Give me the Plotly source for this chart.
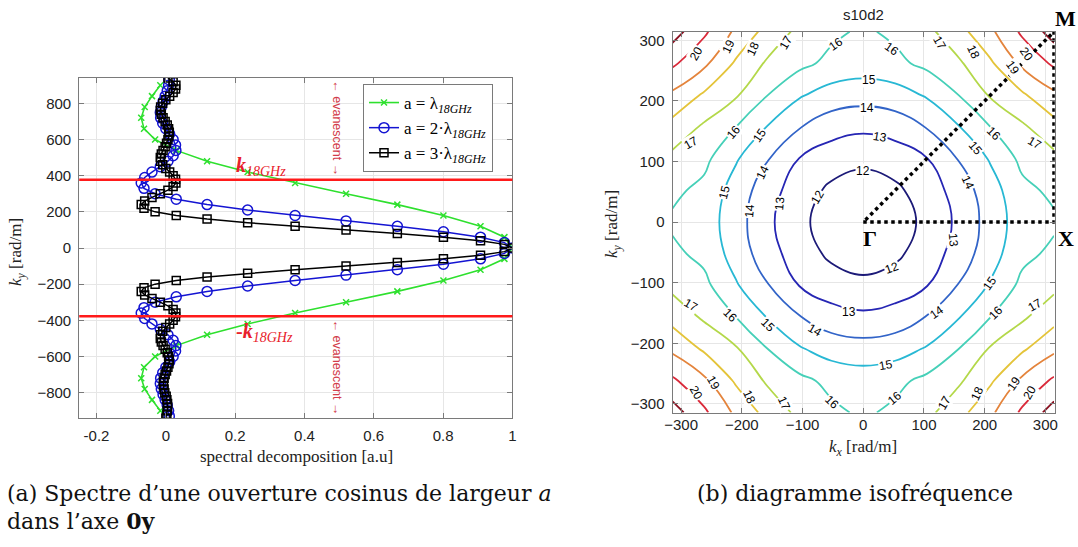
import plotly.graph_objects as go

# ---------------- data : left panel (spectra) ----------------
green_ky = [-900, -840, -780, -720, -660, -600, -540, -480, -420, -360, -300, -240, -180, -120, -60,
            0, 60, 120, 180, 240, 300, 360, 420, 480, 540, 600, 660, 720, 780, 840, 900]
green_val = [-0.016, -0.040, -0.061, -0.071, -0.063, -0.031, 0.030, 0.119, 0.236, 0.373, 0.520,
             0.668, 0.801, 0.908, 0.977, 1.000, 0.977, 0.908, 0.801, 0.668, 0.520, 0.373, 0.236,
             0.119, 0.030, -0.031, -0.063, -0.071, -0.061, -0.040, -0.016]

blue_ky = [-930, -900, -870, -840, -810, -780, -750, -720, -690, -660, -630, -600, -570, -540, -510,
           -480, -450, -420, -390, -360, -330, -300, -270, -240, -210, -180, -150, -120, -90, -60, -30,
           0, 30, 60, 90, 120, 150, 180, 210, 240, 270, 300, 330, 360, 390, 420, 450, 480, 510, 540,
           570, 600, 630, 660, 690, 720, 750, 780, 810, 840, 870, 900, 930]
blue_val = [0.010, 0.008, 0.004, -0.002, -0.008, -0.013, -0.016, -0.015, -0.009, 0.000, 0.011, 0.021,
            0.028, 0.029, 0.021, 0.006, -0.016, -0.040, -0.061, -0.071, -0.063, -0.031, 0.030, 0.119,
            0.236, 0.373, 0.520, 0.668, 0.801, 0.908, 0.977, 1.000, 0.977, 0.908, 0.801, 0.668, 0.520,
            0.373, 0.236, 0.119, 0.030, -0.031, -0.063, -0.071, -0.061, -0.040, -0.016, 0.006, 0.021,
            0.029, 0.028, 0.021, 0.011, 0.000, -0.009, -0.015, -0.016, -0.013, -0.008, -0.002, 0.004,
            0.008, 0.010]

black_ky = [-940, -920, -900, -880, -860, -840, -820, -800, -780, -760, -740, -720, -700, -680, -660,
            -640, -620, -600, -580, -560, -540, -520, -500, -480, -460, -440, -420, -400, -380, -360,
            -340, -320, -300, -280, -260, -240, -220, -200, -180, -160, -140, -120, -100, -80, -60, -40,
            -20, 0, 20, 40, 60, 80, 100, 120, 140, 160, 180, 200, 220, 240, 260, 280, 300, 320, 340,
            360, 380, 400, 420, 440, 460, 480, 500, 520, 540, 560, 580, 600, 620, 640, 660, 680, 700,
            720, 740, 760, 780, 800, 820, 840, 860, 880, 900, 920, 940]
black_val = [0.000, 0.003, 0.004, 0.005, 0.005, 0.003, 0.001, -0.003, -0.005, -0.007, -0.007, -0.005,
             -0.002, 0.002, 0.006, 0.009, 0.010, 0.008, 0.004, -0.002, -0.008, -0.013, -0.016, -0.015,
             -0.009, 0.000, 0.011, 0.021, 0.028, 0.029, 0.021, 0.006, -0.016, -0.040, -0.061, -0.071,
             -0.063, -0.031, 0.030, 0.119, 0.236, 0.373, 0.520, 0.668, 0.801, 0.908, 0.977, 1.000,
             0.977, 0.908, 0.801, 0.668, 0.520, 0.373, 0.236, 0.119, 0.030, -0.031, -0.063, -0.071,
             -0.061, -0.040, -0.016, 0.006, 0.021, 0.029, 0.028, 0.021, 0.011, 0.000, -0.009, -0.015,
             -0.016, -0.013, -0.008, -0.002, 0.002, 0.006, 0.009, 0.010, 0.008, 0.004, -0.002, -0.008,
             -0.013, -0.016, -0.015, -0.009, 0.000, 0.011, 0.021, 0.028, 0.029, 0.021, 0.006, 0.001,
             -0.003, -0.005, -0.007, -0.007, -0.005, -0.002, 0.002, 0.006, 0.009, 0.010]

k18 = 377  # rad/m, free-space wavenumber at 18 GHz
series_names = ["a = λ<sub><i>18GHz</i></sub>", "a = 2·λ<sub><i>18GHz</i></sub>",
                "a = 3·λ<sub><i>18GHz</i></sub>"]

# ---------------- data : right panel (isofrequency, GHz) ----------------
k_grid = [-314.16, -261.8, -209.44, -157.08, -104.72, -52.36, 0, 52.36, 104.72, 157.08, 209.44, 261.8, 314.16]
freq = [
    [21.45, 20.17, 18.80, 17.65, 16.75, 16.20, 15.85, 16.20, 16.75, 17.65, 18.80, 20.17, 21.45],
    [20.17, 19.20, 17.85, 16.85, 16.25, 15.75, 15.52, 15.75, 16.25, 16.85, 17.85, 19.20, 20.17],
    [18.80, 17.85, 17.10, 16.00, 15.10, 14.56, 14.42, 14.56, 15.10, 16.00, 17.10, 17.85, 18.80],
    [17.65, 16.85, 16.00, 14.95, 14.05, 13.45, 13.22, 13.45, 14.05, 14.95, 16.00, 16.85, 17.65],
    [16.75, 16.25, 15.10, 14.05, 12.97, 12.43, 12.19, 12.43, 12.97, 14.05, 15.10, 16.25, 16.75],
    [16.20, 15.75, 14.56, 13.45, 12.43, 11.82, 11.62, 11.82, 12.43, 13.45, 14.56, 15.75, 16.20],
    [15.85, 15.52, 14.42, 13.22, 12.19, 11.62, 11.40, 11.62, 12.19, 13.22, 14.42, 15.52, 15.85],
    [16.20, 15.75, 14.56, 13.45, 12.43, 11.82, 11.62, 11.82, 12.43, 13.45, 14.56, 15.75, 16.20],
    [16.75, 16.25, 15.10, 14.05, 12.97, 12.43, 12.19, 12.43, 12.97, 14.05, 15.10, 16.25, 16.75],
    [17.65, 16.85, 16.00, 14.95, 14.05, 13.45, 13.22, 13.45, 14.05, 14.95, 16.00, 16.85, 17.65],
    [18.80, 17.85, 17.10, 16.00, 15.10, 14.56, 14.42, 14.56, 15.10, 16.00, 17.10, 17.85, 18.80],
    [20.17, 19.20, 17.85, 16.85, 16.25, 15.75, 15.52, 15.75, 16.25, 16.85, 17.85, 19.20, 20.17],
    [21.45, 20.17, 18.80, 17.65, 16.75, 16.20, 15.85, 16.20, 16.75, 17.65, 18.80, 20.17, 21.45],
]
levels = [12, 13, 14, 15, 16, 17, 18, 19, 20, 21]
level_colors = ["#1c1a78", "#2626b4", "#3264c8", "#28b8d4", "#46d0b8",
                "#b4d84a", "#e4c43a", "#e4843c", "#da2a3a", "#8a1020"]
# path Gamma -> X -> M -> Gamma
path_kx = [0, 314.16, 314.16, 0]
path_ky = [0, 0, 314.16, 0]

# contour label placement (layout): level, kx, ky, text angle
label_spots = [
    (20, -276, 278, -60), (19, -222, 291, -65), (18, -182, 286, -65), (17, -128, 296, -60),
    (16, -45, 294, -35), (16, 47, 286, 35), (17, 126, 296, 60), (18, 181, 280, 65),
    (19, 247, 255, 55), (20, 269, 278, 55),
    (15, 9, 234, 0), (14, 7, 189, 0), (13, 28, 140, 10), (12, -1, 85, 0),
    (17, -284, 131, -30), (16, -213, 148, -50), (15, -170, 143, -55), (14, -165, 82, -65),
    (13, -137, 31, -85), (12, -75, 41, -60), (15, -228, 49, -75), (14, -188, 19, -85),
    (16, 216, 146, 45), (15, 185, 123, 50), (17, 283, 131, 30), (14, 173, 65, 65), (13, 148, -30, 85),
    (12, 47, -76, -20), (15, 209, -101, -55), (17, -284, -137, 30), (16, -220, -154, 45),
    (15, -157, -170, 45), (14, -80, -178, 30), (13, -24, -149, 0), (14, 122, -149, -35),
    (16, 218, -150, -45), (17, 283, -137, -30), (15, 38, -236, -10),
    (19, -247, -266, 60), (20, -275, -282, 60), (18, -188, -289, 65), (17, -131, -299, 65),
    (16, -52, -297, 45), (16, 52, -291, -40), (17, 134, -299, -60), (18, 188, -282, -65),
    (19, 249, -266, -55), (20, 275, -281, -60),
]

# ---------------- layout helpers (pixels -> paper) ----------------
W, H = 1078, 547
def px(x): return x / W
def py(y): return 1 - y / H

SANS = "Liberation Sans, Arial, sans-serif"
SERIF = "Liberation Serif, Times New Roman, serif"
CAP = "DejaVu Serif, serif"

fig = go.Figure()

styles = [
    dict(color="#2ee02e", symbol="x-thin-open", size=6, lw=1.6),
    dict(color="#1414d2", symbol="circle-open", size=10, lw=1.5),
    dict(color="#000000", symbol="square-open", size=8, lw=1.5),
]
for name, xs, ys, st in zip(series_names, [green_val, blue_val, black_val],
                            [green_ky, blue_ky, black_ky], styles):
    fig.add_trace(go.Scatter(
        x=xs, y=ys, mode="lines+markers", name=name, xaxis="x", yaxis="y",
        line=dict(color=st["color"], width=st["lw"]),
        marker=dict(symbol=st["symbol"], size=st["size"], color=st["color"],
                    line=dict(color=st["color"], width=1.5)),
        hoverinfo="skip"))

cs = [[(l - levels[0]) / (levels[-1] - levels[0]), c] for l, c in zip(levels, level_colors)]
fig.add_trace(go.Contour(
    x=k_grid, y=k_grid, z=freq, xaxis="x2", yaxis="y2",
    contours=dict(start=levels[0], end=levels[-1], size=1, coloring="lines", showlabels=False),
    line=dict(width=1.8, smoothing=1.2), colorscale=cs, zmin=levels[0], zmax=levels[-1],
    showscale=False, showlegend=False, hoverinfo="skip"))
fig.add_trace(go.Scatter(
    x=path_kx, y=path_ky, mode="lines", xaxis="x2", yaxis="y2", showlegend=False,
    line=dict(color="black", width=3.5, dash="dot"), hoverinfo="skip"))

def axis_common(standoff):
    return dict(showline=True, mirror="ticks", linecolor="#7a7a7a", linewidth=1,
                ticks="inside", ticklen=5, tickcolor="#7a7a7a", showgrid=True,
                gridcolor="#e6e6e6", gridwidth=1, zeroline=False, automargin=False,
                tickfont=dict(family=SANS, size=15, color="#222"), ticklabelstandoff=standoff)

fig.update_layout(
    width=W, height=H, margin=dict(l=0, r=0, t=0, b=0, autoexpand=False),
    paper_bgcolor="white", plot_bgcolor="white",
    xaxis=dict(domain=[px(79.2), px(512.4)], range=[-0.25, 1.0], tickvals=[-0.2, 0, 0.2, 0.4, 0.6, 0.8, 1],
               ticktext=["-0.2", "0", "0.2", "0.4", "0.6", "0.8", "1"], anchor="y", **axis_common(4)),
    yaxis=dict(domain=[py(418.3), py(77.7)], range=[-942, 942], tickvals=[-800, -600, -400, -200, 0, 200, 400, 600, 800],
               anchor="x", **axis_common(4)),
    xaxis2=dict(domain=[px(672.5), px(1054.8)], range=[-314.16, 315.5], tickvals=[-300, -200, -100, 0, 100, 200, 300],
                anchor="y2", **axis_common(-2)),
    yaxis2=dict(domain=[py(413.3), py(31.7)], range=[-315.5, 314.16], tickvals=[-300, -200, -100, 0, 100, 200, 300],
                anchor="x2", **axis_common(4)),
    legend=dict(x=px(363), y=py(84), xanchor="left", yanchor="top", bgcolor="white",
                bordercolor="#7a7a7a", borderwidth=1, font=dict(family=SERIF, size=17, color="black"),
                tracegroupgap=0, itemwidth=30),
    showlegend=True,
)

for s in (1, -1):
    fig.add_shape(type="line", xref="x domain", yref="y", x0=0, x1=1, y0=s * k18, y1=s * k18,
                  line=dict(color="#ff1a1a", width=2.5))

ann = []
def note(x, y, text, font, xref="paper", yref="paper", angle=0, xa="center", ya="middle", **kw):
    ann.append(dict(xref=xref, yref=yref, x=x, y=y, text=text, font=font, textangle=angle,
                    xanchor=xa, yanchor=ya, showarrow=False, **kw))

red_font = dict(family=SERIF, size=20, color="#e8202a")
note(0.197, 452, "<b><i>k</i></b><sub><i>18GHz</i></sub>", red_font, "x", "y", xa="left")
note(0.197, -470, "<b>-<i>k</i></b><sub><i>18GHz</i></sub>", red_font, "x", "y", xa="left")
for yc in (662, -662):
    note(0.494, yc, "← evanescent →", dict(family=SANS, size=12.5, color="#d23c4a"), "x", "y", angle=90)

title_font = dict(family=SERIF, size=17, color="#222")
note(px(296), py(456), "spectral decomposition [a.u]", title_font)
note(px(17), py(252), "<i>k</i><sub><i>y</i></sub> [rad/m]", title_font, angle=-90)
note(px(863), py(448), "<i>k</i><sub><i>x</i></sub> [rad/m]", title_font)
note(px(613), py(224), "<i>k</i><sub><i>y</i></sub> [rad/m]", title_font, angle=-90)
note(px(863), py(14), "s10d2", dict(family=SANS, size=15, color="#222"))

for t, xx, yy in (("Γ", 870, 238), ("X", 1066, 238), ("M", 1065, 18)):
    note(px(xx), py(yy), "<b>%s</b>" % t, dict(family=SERIF, size=22, color="black"))

lab_font = dict(family=SANS, size=12, color="black")
for lvl, kx, ky, ang in label_spots:
    note(kx, ky, str(lvl), lab_font, "x2", "y2", angle=ang, bgcolor="white", borderpad=0)

cap_font = dict(family=CAP, size=22, color="#111")
note(px(5), py(493), "(a) Spectre d’une ouverture cosinus de largeur <i>a</i>", cap_font, xa="left")
note(px(5), py(521), "dans l’axe <b>0y</b>", cap_font, xa="left")
note(px(855), py(493), "(b) diagramme isofréquence", cap_font)
fig.update_layout(annotations=ann)

fig.write_html("out.html", config={"displayModeBar": False},
               post_script="document.body.style.margin='0';document.body.style.overflow='hidden';")
